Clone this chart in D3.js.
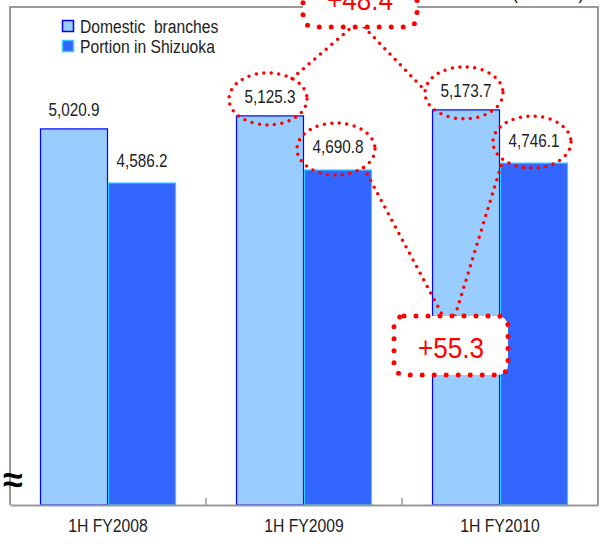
<!DOCTYPE html>
<html>
<head>
<meta charset="utf-8">
<script src="https://cdn.jsdelivr.net/npm/d3@7"></script>
<style>
  html, body { margin: 0; padding: 0; background: #fff; }
  svg { display: block; }
  text { font-family: "Liberation Sans", Arial, sans-serif; }
</style>
</head>
<body>
<svg id="chart" width="605" height="546"></svg>
<script>
// Deposits by half-year (¥ billion)
const categories = ["1H FY2008", "1H FY2009", "1H FY2010"];
const seriesNames = ["Domestic  branches", "Portion in Shizuoka"];
const domestic = [5020.9, 5125.3, 5173.7];
const shizuoka = [4586.2, 4690.8, 4746.1];
const yDomain = [2000, 6000];
const unitLabel = "(¥ billion)";

const fills = ["#99ccff", "#3366ff"];
const strokes = ["#0000ff", "#33ccff"];
const red = "#ff0000";

const svg = d3.select("#chart");
const frame = { left: 10, right: 598, top: 7, bottom: 505 };

const x = d3.scaleBand().domain(categories).range([frame.left, frame.right]).padding(0);
const xs = d3.scaleBand().domain(d3.range(seriesNames.length)).range([30, 166]).padding(0);
const y = d3.scaleLinear().domain(yDomain).range([frame.bottom, frame.top]);

const series = [domestic, shizuoka];
const fmt = d3.format(",.1f");

// condensed text: position via transform and squeeze horizontally
function squeeze(sel, px, py, sx) {
  return sel.attr("x", 0).attr("y", 0)
    .attr("transform", (d, i) => {
      const X = typeof px === "function" ? px(d, i) : px;
      const Y = typeof py === "function" ? py(d, i) : py;
      return `translate(${X},${Y}) scale(${sx},1)`;
    });
}

// unit caption (sits above the frame)
svg.append("text").call(squeeze, 512, -1, 0.85)
  .attr("font-size", 21).attr("fill", "#222").text(unitLabel);

// plot frame
svg.append("path")
  .attr("d", `M${frame.left},${frame.bottom}V${frame.top}H${frame.right}V${frame.bottom}`)
  .attr("fill", "none").attr("stroke", "#999").attr("stroke-width", 2);

// bars
const groups = svg.append("g").selectAll("g").data(categories).join("g")
  .attr("transform", d => `translate(${x(d)},0)`);

series.forEach((vals, si) => {
  groups.append("rect")
    .attr("x", xs(si) + 0.5)
    .attr("width", xs.bandwidth() - 1)
    .attr("y", (d, i) => y(vals[i]))
    .attr("height", (d, i) => frame.bottom - y(vals[i]))
    .attr("fill", fills[si])
    .attr("stroke", strokes[si])
    .attr("stroke-width", 1.2);
});

// value labels
const labelOffset = [19, 23];
series.forEach((vals, si) => {
  groups.append("text")
    .call(squeeze, xs(si) + xs.bandwidth() / 2, (d, i) => y(vals[i]) - labelOffset[si] + 6.5, 0.85)
    .attr("text-anchor", "middle")
    .attr("font-size", 18)
    .attr("fill", "#222")
    .text((d, i) => fmt(vals[i]));
});

// category axis
const axis = svg.append("g").attr("transform", `translate(0,${frame.bottom})`)
  .call(d3.axisBottom(x).tickSize(0).tickPadding(14));
axis.select(".domain").attr("stroke", "#999").attr("stroke-width", 2);
axis.selectAll(".tick text").attr("font-size", 19).attr("fill", "#222")
  .attr("font-family", "'Liberation Sans', Arial, sans-serif")
  .attr("transform", "scale(0.83,1)");
// boundary ticks between categories
axis.selectAll("line.sep").data(categories.slice(1)).join("line")
  .attr("class", "sep")
  .attr("x1", d => x(d)).attr("x2", d => x(d))
  .attr("y1", 0).attr("y2", -7)
  .attr("stroke", "#999").attr("stroke-width", 1.5);

// axis break mark
svg.append("text").attr("x", 13).attr("y", 492)
  .attr("text-anchor", "middle").attr("font-size", 36).attr("font-weight", "bold")
  .attr("font-family", "DejaVu Sans, sans-serif").attr("fill", "#000")
  .text("≈");

// legend
const legend = svg.append("g").attr("transform", "translate(62,20)");
seriesNames.forEach((name, si) => {
  const g = legend.append("g").attr("transform", `translate(0,${si * 20})`);
  g.append("rect").attr("x", 0.5).attr("y", 0.5).attr("width", 11).attr("height", 11)
    .attr("fill", fills[si]).attr("stroke", strokes[si]).attr("stroke-width", 1.5);
  g.append("text").call(squeeze, 18, 12.5, 0.87).attr("font-size", 18)
    .attr("fill", "#222").attr("xml:space", "preserve").text(name);
});

// ---- change annotations (last two periods) ----
const ann = svg.append("g");
const dotted = (sel, w, gap) => sel.attr("fill", "none").attr("stroke", red)
  .attr("stroke-width", w).attr("stroke-linecap", "round")
  .attr("stroke-dasharray", `0 ${gap}`);

const ellRx = 39, ellRy = 26;
function labelCenter(si, ci) {
  const c = categories[ci];
  return [x(c) + xs(si) + xs.bandwidth() / 2 - 2, y(series[si][ci]) - labelOffset[si] + 2];
}
function onEllipse(center, deg) {
  const a = deg * Math.PI / 180;
  return [center[0] + ellRx * Math.cos(a), center[1] + ellRy * Math.sin(a)];
}

// per series: box centre shift, box vertical position, line attach angles
const changeSpecs = [
  { si: 0, dx: -6, cy: -2.5, fromAngle: -52, toAngle: 185, boxEdge: "bottom" },
  { si: 1, dx: 17, cy: 345.5, fromAngle: 45, toAngle: 138, boxEdge: "top" }
];
const boxW = 114, boxH = 59;
const fmtChange = d3.format("+.1f");

changeSpecs.forEach(s => {
  const vals = series[s.si];
  const c1 = labelCenter(s.si, 1), c2 = labelCenter(s.si, 2);
  const bx = (c1[0] + c2[0]) / 2 + s.dx;
  const edgeY = s.boxEdge === "bottom" ? s.cy + boxH / 2 : s.cy - boxH / 2;
  const p1 = onEllipse(c1, s.fromAngle), p2 = onEllipse(c2, s.toAngle);

  ann.append("path").attr("d", d3.line()([p1, [bx - 8, edgeY]])).call(dotted, 3.5, 7.5);
  ann.append("path").attr("d", d3.line()([[bx + 4, edgeY], p2])).call(dotted, 3.5, 7.5);

  [c1, c2].forEach(c => {
    ann.append("ellipse").attr("cx", c[0]).attr("cy", c[1])
      .attr("rx", ellRx).attr("ry", ellRy).call(dotted, 3.5, 7.5);
  });

  ann.append("rect").attr("x", bx - boxW / 2).attr("y", s.cy - boxH / 2)
    .attr("width", boxW).attr("height", boxH).attr("rx", 10)
    .attr("fill", "#fff").attr("stroke", red).attr("stroke-width", 5)
    .attr("stroke-linecap", "round").attr("stroke-dasharray", "0 12");
  ann.append("text").call(squeeze, bx, s.cy + 12.5, 0.9)
    .attr("text-anchor", "middle").attr("font-size", 29).attr("fill", red)
    .text(fmtChange(vals[2] - vals[1]));
});
</script>
</body>
</html>
